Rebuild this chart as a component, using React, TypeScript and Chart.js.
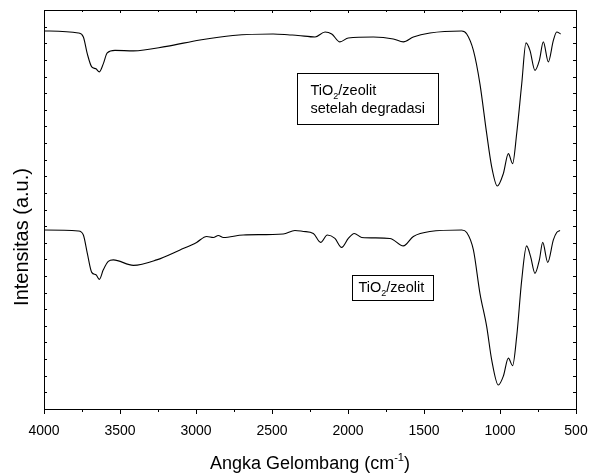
import React, { useEffect, useRef } from "react";
import { Chart, registerables } from "chart.js";

Chart.register(...registerables);

// Wavenumbers (cm-1) and intensities (arbitrary units)
const degradedWavenumbers = [4000, 3774, 3741, 3715, 3686, 3658, 3636, 3610, 3584, 3533, 3412, 3193, 2974, 2757, 2493, 2382, 2329, 2217, 2151, 2107, 2053, 1998, 1833, 1702, 1636, 1570, 1461, 1252, 1219, 1175, 1132, 1088, 1055, 1018, 978, 945, 917, 890, 857, 829, 803, 770, 741, 715, 682, 649, 627, 601];
const degradedIntensity = [379, 377, 373, 356, 343, 341, 338, 346, 357, 359.5, 359, 363.5, 370, 374.5, 376, 375, 374.5, 373, 378, 376, 368, 372, 373, 371, 368, 373, 377, 379, 376, 359.5, 326, 276.5, 243, 223.5, 236, 256, 246, 276.5, 326, 367, 359.5, 339.5, 349.5, 368, 348, 369.5, 378, 376];

const freshWavenumbers = [4000, 3774, 3741, 3715, 3686, 3658, 3636, 3610, 3577, 3544, 3412, 3259, 3105, 2996, 2930, 2886, 2853, 2820, 2689, 2426, 2349, 2294, 2228, 2180, 2136, 2086, 2042, 1998, 1959, 1910, 1724, 1636, 1570, 1461, 1252, 1219, 1175, 1132, 1088, 1055, 1011, 978, 945, 917, 890, 857, 825, 799, 770, 741, 719, 686, 649, 627, 605];
const freshIntensity = [179.5, 178.5, 174.5, 156, 137, 134.5, 130, 139.5, 148, 149.5, 144, 149.5, 159.5, 167, 173, 172, 174, 172, 174.5, 175.5, 179, 178, 176, 167, 174.5, 171, 162, 171, 176, 172, 171, 163.5, 173, 178, 179.5, 177, 159.5, 116, 83, 49.5, 24, 33, 51, 43.5, 73, 129.5, 163.5, 153, 136, 149.5, 167, 147, 169.5, 177, 179];

const xMajorTicks = [4000, 3500, 3000, 2500, 2000, 1500, 1000, 500];
const xMinorTicks = [3750, 3250, 2750, 2250, 1750, 1250, 750];
const xTickLabels = ["4000", "3500", "3000", "2500", "2000", "1500", "1000", "500"];
const yMin = 0;
const yMax = 400;
const yMinorCount = 24;

const xTitleMain = "Angka Gelombang (cm";
const xTitleSup = "-1";
const xTitleEnd = ")";
const yTitle = "Intensitas (a.u.)";
const labelDegradedLine1 = ["TiO", "2", "/zeolit"];
const labelDegradedLine2 = "setelah degradasi";
const labelFresh = ["TiO", "2", "/zeolit"];

const FONT = '"Liberation Sans", Arial, Helvetica, sans-serif';

function toPoints(xs: number[], ys: number[]) {
  return xs.map((x, i) => ({ x, y: ys[i] }));
}

const framePlugin = {
  id: "framePlugin",
  afterDraw(chart: any) {
    const ctx = chart.ctx as CanvasRenderingContext2D;
    const { left, right, top, bottom } = chart.chartArea;
    const xs = chart.scales.x;
    const ys = chart.scales.y;
    ctx.save();
    ctx.strokeStyle = "#000";
    ctx.fillStyle = "#000";
    ctx.lineWidth = 1;
    ctx.strokeRect(Math.round(left) + 0.5, Math.round(top) + 0.5, Math.round(right - left), Math.round(bottom - top));

    ctx.beginPath();
    xMajorTicks.forEach((v) => {
      const px = Math.round(xs.getPixelForValue(v)) + 0.5;
      ctx.moveTo(px, bottom);
      ctx.lineTo(px, bottom + 5);
      ctx.moveTo(px, top);
      ctx.lineTo(px, top + 3);
    });
    xMinorTicks.forEach((v) => {
      const px = Math.round(xs.getPixelForValue(v)) + 0.5;
      ctx.moveTo(px, bottom);
      ctx.lineTo(px, bottom + 3);
      ctx.moveTo(px, top);
      ctx.lineTo(px, top + 2);
    });
    for (let i = 1; i < yMinorCount; i++) {
      const v = yMin + ((yMax - yMin) * i) / yMinorCount;
      const py = Math.round(ys.getPixelForValue(v)) + 0.5;
      ctx.moveTo(left, py);
      ctx.lineTo(left + 3, py);
      ctx.moveTo(right, py);
      ctx.lineTo(right - 3, py);
    }
    ctx.stroke();

    // x tick labels
    ctx.font = `14px ${FONT}`;
    ctx.textAlign = "center";
    ctx.textBaseline = "alphabetic";
    xMajorTicks.forEach((v, i) => {
      ctx.fillText(xTickLabels[i], xs.getPixelForValue(v), 435);
    });

    // x title with superscript
    const mainFont = `18px ${FONT}`;
    const supFont = `11px ${FONT}`;
    ctx.font = mainFont;
    const w1 = ctx.measureText(xTitleMain).width;
    const w3 = ctx.measureText(xTitleEnd).width;
    ctx.font = supFont;
    const w2 = ctx.measureText(xTitleSup).width;
    const total = w1 + w2 + w3;
    let cx = (left + right) / 2 - total / 2;
    const base = 469;
    ctx.textAlign = "left";
    ctx.font = mainFont;
    ctx.fillText(xTitleMain, cx, base);
    cx += w1;
    ctx.font = supFont;
    ctx.fillText(xTitleSup, cx, base - 8);
    cx += w2;
    ctx.font = mainFont;
    ctx.fillText(xTitleEnd, cx, base);

    // y title
    ctx.save();
    ctx.translate(28, 237);
    ctx.rotate(-Math.PI / 2);
    ctx.font = `20px ${FONT}`;
    ctx.textAlign = "center";
    ctx.fillText(yTitle, 0, 0);
    ctx.restore();

    // annotation boxes
    const drawSub = (parts: string[], x: number, y: number, size: number) => {
      ctx.textAlign = "left";
      ctx.font = `${size}px ${FONT}`;
      ctx.fillText(parts[0], x, y);
      let px = x + ctx.measureText(parts[0]).width;
      ctx.font = `${Math.round(size * 0.62)}px ${FONT}`;
      ctx.fillText(parts[1], px, y + 4);
      px += ctx.measureText(parts[1]).width;
      ctx.font = `${size}px ${FONT}`;
      ctx.fillText(parts[2], px, y);
    };
    ctx.lineWidth = 1;
    ctx.strokeRect(297.5, 73.5, 141, 51);
    drawSub(labelDegradedLine1, 310.5, 95, 14.5);
    ctx.font = `14.5px ${FONT}`;
    ctx.fillText(labelDegradedLine2, 310.5, 113);
    ctx.strokeRect(352.5, 275.5, 81, 25);
    drawSub(labelFresh, 358.5, 292, 14.5);
    ctx.restore();
  },
};

export default function App() {
  const canvasRef = useRef<HTMLCanvasElement | null>(null);
  useEffect(() => {
    document.body.style.margin = "0";
    const canvas = canvasRef.current;
    if (!canvas) return;
    const chart = new Chart(canvas, {
      type: "line",
      data: {
        datasets: [
          {
            label: "TiO2/zeolit setelah degradasi",
            data: toPoints(degradedWavenumbers, degradedIntensity),
            borderColor: "#000",
            borderWidth: 1.1,
            pointRadius: 0,
            cubicInterpolationMode: "monotone",
            fill: false,
          },
          {
            label: "TiO2/zeolit",
            data: toPoints(freshWavenumbers, freshIntensity),
            borderColor: "#000",
            borderWidth: 1.1,
            pointRadius: 0,
            cubicInterpolationMode: "monotone",
            fill: false,
          },
        ],
      },
      options: {
        responsive: false,
        animation: false,
        devicePixelRatio: 1,
        layout: { padding: { left: 44, right: 13, top: 10, bottom: 64 } },
        plugins: { legend: { display: false }, tooltip: { enabled: false } },
        scales: {
          x: { type: "linear", reverse: true, min: 500, max: 4000, display: false },
          y: { type: "linear", min: yMin, max: yMax, display: false },
        },
      },
      plugins: [framePlugin],
    });
    return () => chart.destroy();
  }, []);
  return (
    <div style={{ width: 589, height: 473, background: "#fff" }}>
      <canvas ref={canvasRef} width={589} height={473} />
    </div>
  );
}
